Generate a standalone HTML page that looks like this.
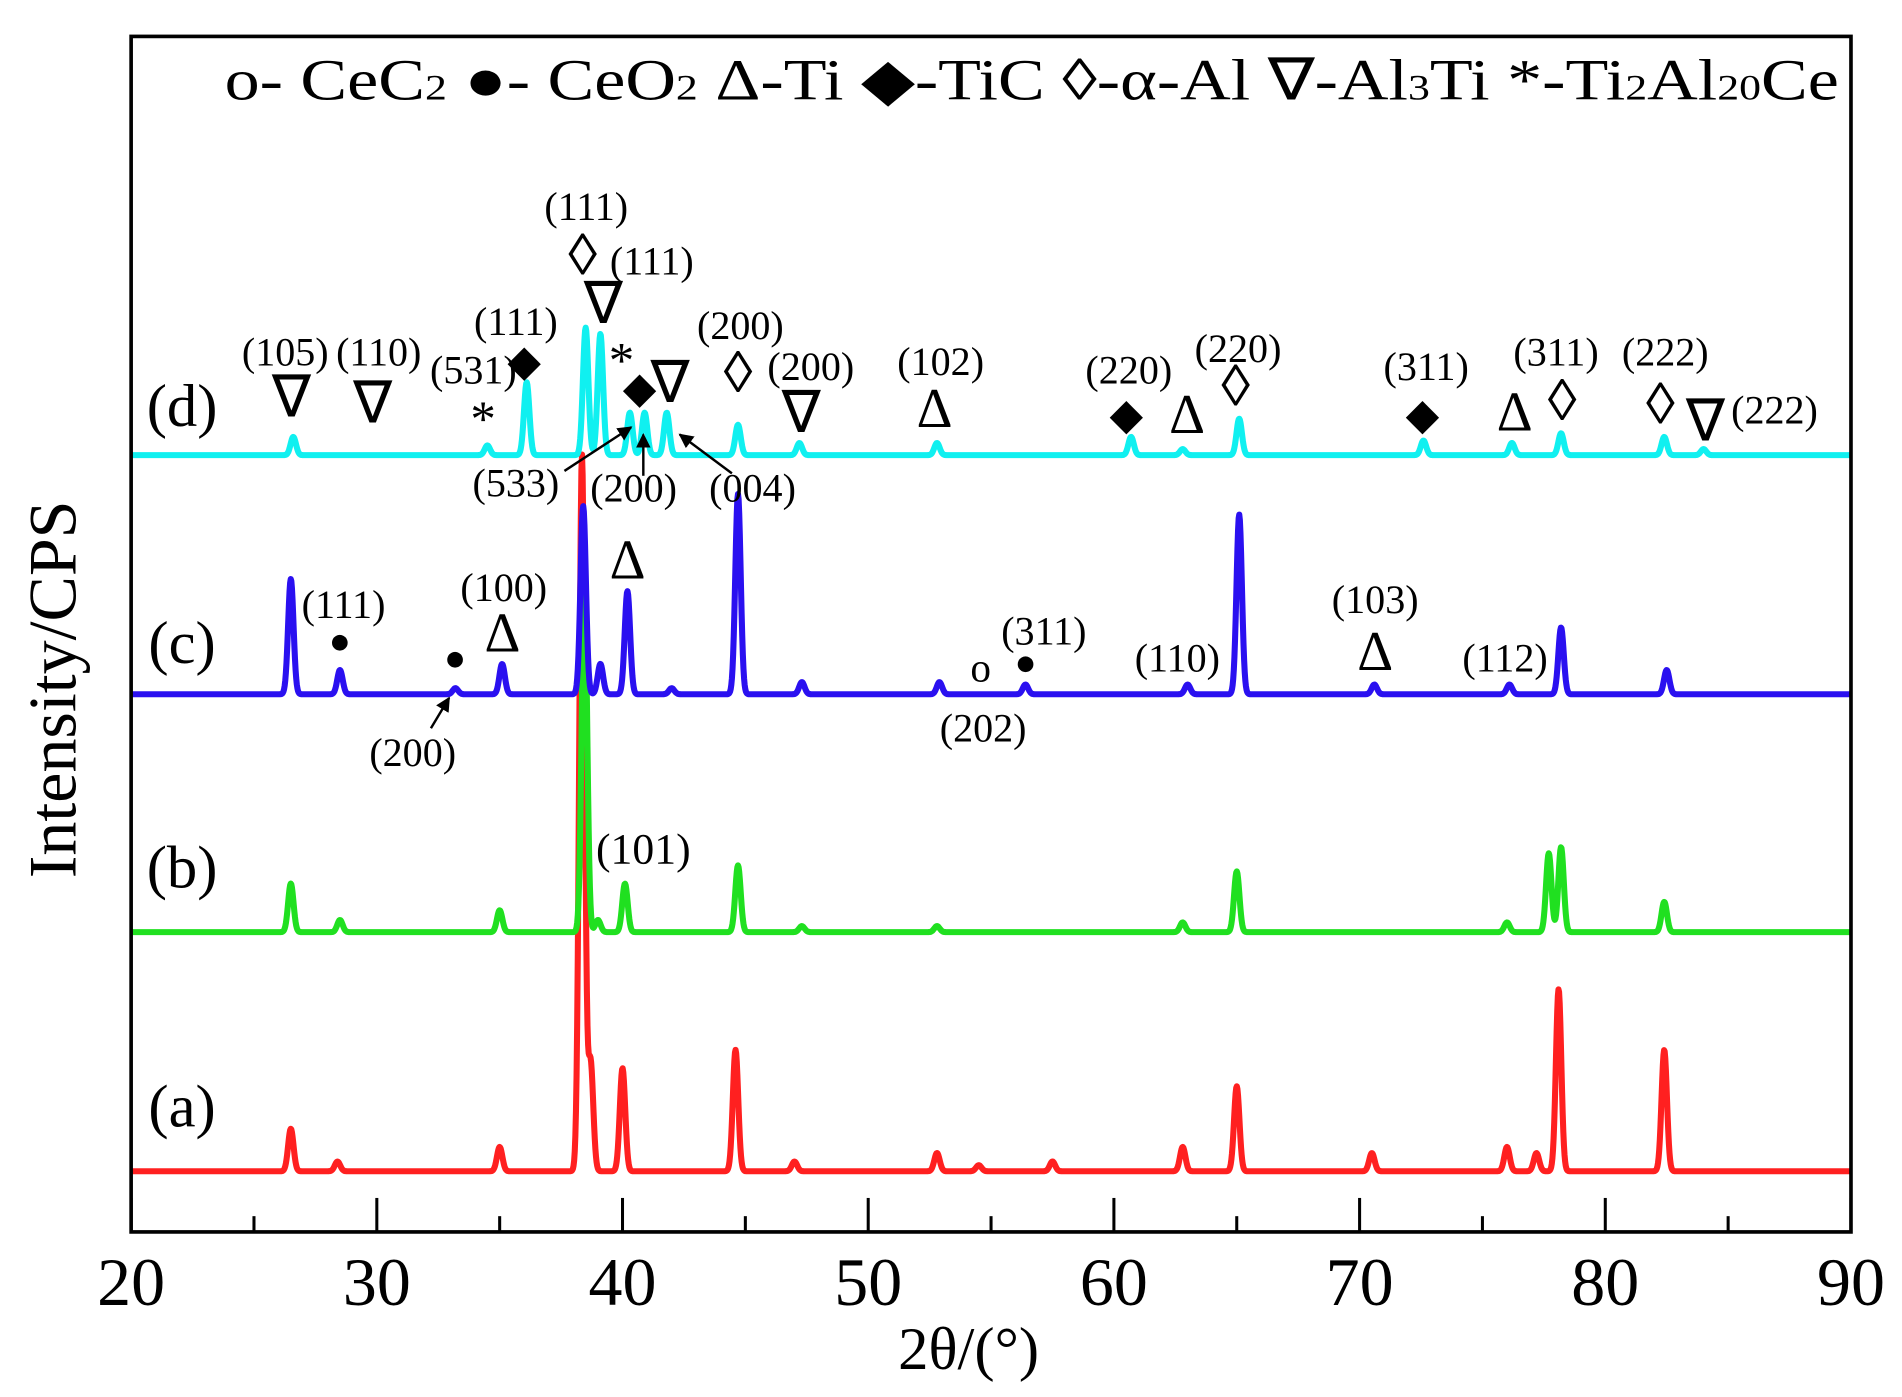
<!DOCTYPE html>
<html><head><meta charset="utf-8">
<style>
html,body{margin:0;padding:0;background:#fff;}
svg{display:block;}
text{font-family:"Liberation Serif",serif;fill:#000;}
</style></head>
<body>
<svg id="chart" width="1902" height="1397" viewBox="0 0 1567 1151" xmlns="http://www.w3.org/2000/svg">
<g id="series"></g>
<g id="anno"></g>
<rect x="108" y="30" width="1417" height="985" fill="none" stroke="#000" stroke-width="3"/>
<g id="axis"></g>
<text x="185" y="82" font-size="48" textLength="1330" lengthAdjust="spacingAndGlyphs">o- CeC<tspan font-size="30">2</tspan> ●- CeO<tspan font-size="30">2</tspan>  Δ-Ti  ◆-TiC  ◊-α-Al   ∇-Al<tspan font-size="30">3</tspan>Ti  *-Ti<tspan font-size="30">2</tspan>Al<tspan font-size="30">20</tspan>Ce</text>
<text x="798" y="1128" font-size="50" text-anchor="middle">2θ/(°)</text>
<text transform="translate(62,568) rotate(-90)" font-size="56" text-anchor="middle">Intensity/CPS</text>
</svg>
<script>
const xMin=20,xMax=90;
const xTicks=[20,30,40,50,60,70,80,90];
const seriesNames=['(a)','(b)','(c)','(d)'];
const seriesColors=['#ff2020','#20e020','#2a10f0','#10f0f0'];
const baselines=[965,768,572,375];
const peaksA=[[26.5,35],[28.4,8],[35,20],[38.35,590],[38.7,90],[40,85],[44.6,100],[47,8],[52.8,15],[54.5,5],[57.5,8],[62.8,20],[65,70],[70.5,15],[76,20],[77.2,15],[78.1,150],[82.4,100]];
const peaksB=[[26.5,40],[28.5,10],[35,18],[38.45,290],[39.0,10],[40.1,40],[44.7,55],[47.3,5],[52.8,5],[62.8,8],[65,50],[76,8],[77.7,65],[78.2,70],[82.4,25]];
const peaksC=[[26.5,95],[28.5,20],[33.2,5],[35.1,25],[38.4,155],[39.1,25],[40.2,85],[42,5],[44.7,165],[47.3,10],[52.9,10],[56.4,8],[63,8],[65.1,148],[70.6,8],[76.1,8],[78.2,55],[82.5,20]];
const peaksD=[[26.6,15],[34.5,8],[36.1,60],[38.5,105],[39.1,100],[40.3,35],[40.9,35],[41.8,35],[44.7,25],[47.2,10],[52.8,10],[60.7,15],[62.8,5],[65.1,30],[72.6,12],[76.2,10],[78.2,18],[82.4,15],[84,5]];
const allPeaks=[peaksA,peaksB,peaksC,peaksD];
const NS='http://www.w3.org/2000/svg';
const L=108,R=1525;
function xs(v){return L+(v-xMin)/(xMax-xMin)*(R-L);}
function mk(tag,attrs,parent){const e=document.createElementNS(NS,tag);for(const k in attrs)e.setAttribute(k,attrs[k]);parent.appendChild(e);return e;}
const sg=document.getElementById('series');
for(let s=0;s<4;s++){
  let d='';
  for(let px=L;px<=R;px+=0.5){
    const th=xMin+(px-L)/(R-L)*(xMax-xMin);
    let y=0;
    for(const p of allPeaks[s]){const w=0.13;const dx=(th-p[0])/w;y+=p[1]*Math.exp(-dx*dx*0.7);}
    d+=(d?'L':'M')+px.toFixed(1)+','+(baselines[s]-y).toFixed(1);
  }
  const p=mk('path',{d:d,fill:'none',stroke:seriesColors[s],'stroke-width':5,'stroke-linejoin':'round'},sg);
  
  
}
const ag=document.getElementById('axis');
for(let v=20;v<=90;v+=5){
  const major=v%10===0;
  const t=mk('line',{x1:xs(v),x2:xs(v),y1:1015,y2:1015-(major?28:13),stroke:'#000','stroke-width':2.5},ag);
  
  
}
for(const v of xTicks){
  const t=mk('text',{x:xs(v),y:1075,'font-size':56,'text-anchor':'middle'},ag);
  t.textContent=v;
  
  
}
const an=document.getElementById('anno');
const labels=[
 ['(d)',150,335,50],['(c)',150,530,50],['(b)',150,715,50],['(a)',150,912,50],
 ['(105)',235,290,33],['(110)',312,290,33],['(531)',390,305,33],['(111)',425,265,33],['(111)',483,170,33],['(111)',537,215,33],
 ['(200)',610,268,33],['(200)',668,302,33],['(102)',775,298,33],['(220)',930,305,33],['(220)',1020,287,33],['(311)',1175,302,33],
 ['(311)',1282,290,33],['(222)',1372,290,33],['(222)',1462,338,33],['(533)',425,398,33],['(200)',522,402,33],['(004)',620,402,33],
 ['(111)',283,498,33],['(100)',415,484,33],['(200)',340,620,33],['(311)',860,520,33],['(202)',810,600,33],['(110)',970,542,33],
 ['(103)',1133,494,33],['(112)',1240,542,33],['(101)',530,700,36],
 ['∇',240,327,48],['∇',307,332,48],['*',398,346,42],['◆',432,298,36],['◊',480,210,48],['∇',497,250,48],['*',512,298,42],['◆',527,320,36],
 ['∇',552,315,48],['◊',608,307,48],['∇',660,340,48],['Δ',770,337,46],['◆',928,342,36],['Δ',978,342,46],['◊',1018,318,48],['◆',1172,342,36],
 ['Δ',1248,340,46],['◊',1287,330,48],['◊',1368,333,48],['∇',1405,347,48],
 ['●',280,528,30],['●',375,542,30],['Δ',414,522,46],['Δ',517,462,46],['o',808,550,34],['●',845,546,30],['Δ',1133,537,46]
];
for(const l of labels){
  const t=mk('text',{x:l[1],y:l[2],'font-size':l[3],'text-anchor':'middle','dominant-baseline':'central'},an);
  t.textContent=l[0];
  
  
}
mk('defs',{},an).innerHTML='<marker id="ar" viewBox="0 0 10 10" refX="9" refY="5" markerWidth="6" markerHeight="6" orient="auto"><path d="M0,0L10,5L0,10z" fill="#000"/></marker>';
const arrows=[[465,388,520,352],[530,392,530,358],[603,390,560,358],[355,600,370,575]];
for(const a of arrows){
  const l=mk('line',{x1:a[0],y1:a[1],x2:a[2],y2:a[3],stroke:'#000','stroke-width':2,'marker-end':'url(#ar)'},an);
  
  
}
</script>
</body></html>
